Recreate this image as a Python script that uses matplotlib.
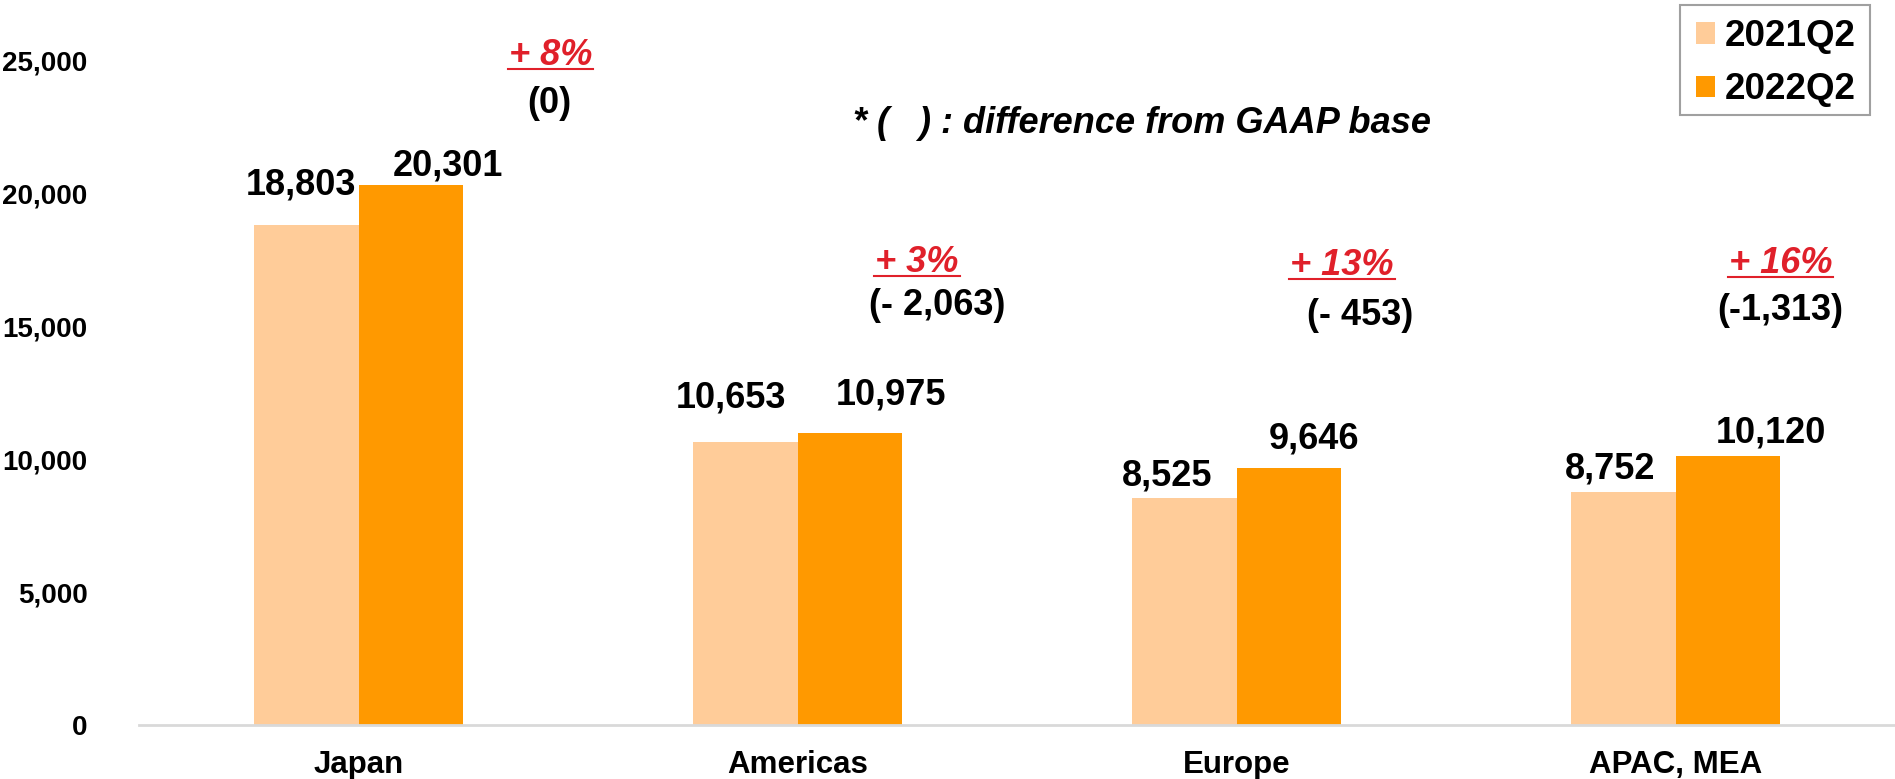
import matplotlib
matplotlib.use("Agg")
import matplotlib.pyplot as plt
from matplotlib.lines import Line2D
from matplotlib.patches import Rectangle
import numpy as np

# ---------------- data ----------------
categories = ["Japan", "Americas", "Europe", "APAC, MEA"]
series_names = ["2021Q2", "2022Q2"]
values_2021 = [18803, 10653, 8525, 8752]
values_2022 = [20301, 10975, 9646, 10120]
growth_labels = ["+ 8%", "+ 3%", "+ 13%", "+ 16%"]
gaap_diff_labels = ["(0)", "(- 2,063)", "(- 453)", "(-1,313)"]
note_text = "* (   ) : difference from GAAP base"
yticks = [0, 5000, 10000, 15000, 20000, 25000]

# ---------------- layout / style ----------------
fam = "Liberation Sans"
plt.rcParams["font.family"] = [fam, "DejaVu Sans"]

c_light = "#FFCC99"
c_dark = "#FF9900"
c_red = "#E0202A"

W, H = 1895, 779
fig = plt.figure(figsize=(W / 100, H / 100), dpi=100)
ax = fig.add_axes([139 / W, 54 / H, 1 - 139 / W, 1 - 54 / H])

x = np.arange(len(categories))
bw = 0.239
b1 = ax.bar(x - bw / 2, values_2021, width=bw, color=c_light, label=series_names[0])
b2 = ax.bar(x + bw / 2, values_2022, width=bw, color=c_dark, label=series_names[1])

ax.set_xlim(-0.5, 3.5)
ax.set_ylim(0, 27256)
ax.set_yticks(yticks)
ax.set_yticklabels([f"{v:,}" for v in yticks], fontsize=20, fontweight="bold")
ax.set_xticks(x)
ax.set_xticklabels(categories, fontsize=22.5, fontweight="bold")
ax.tick_params(axis="y", length=0, pad=37)
ax.tick_params(axis="x", length=0, pad=18)
for s in ["top", "right", "left"]:
    ax.spines[s].set_visible(False)
ax.spines["bottom"].set_color("#D9D9D9")
ax.spines["bottom"].set_linewidth(2)

# value labels: pixel offsets of text baseline-centre from bar top centre
off_2021 = [(-5, 30), (-14, 34), (-17, 13), (-13, 14)]
off_2022 = [(37, 10), (41, 29), (25, 20), (43, 13)]
for i in range(len(categories)):
    ax.annotate(f"{values_2021[i]:,}", (x[i] - bw / 2, values_2021[i]),
                xytext=off_2021[i], textcoords="offset pixels",
                ha="center", va="baseline", fontsize=26, fontweight="bold")
    ax.annotate(f"{values_2022[i]:,}", (x[i] + bw / 2, values_2022[i]),
                xytext=off_2022[i], textcoords="offset pixels",
                ha="center", va="baseline", fontsize=26, fontweight="bold")

# growth and GAAP-difference annotations (data coords, baseline)
growth_pos = [(0.437, 24812), (1.272, 17030), (2.240, 16917), (3.239, 16992)]
gaap_pos = [(0.435, 23026), (1.319, 15395), (2.281, 15056), (3.239, 15207)]
growth_texts = []
for i in range(len(categories)):
    t = ax.text(*growth_pos[i], growth_labels[i], color=c_red, fontsize=26,
                fontweight="bold", fontstyle="italic", ha="center", va="baseline")
    growth_texts.append(t)
    ax.text(*gaap_pos[i], gaap_diff_labels[i], color="black", fontsize=26,
            fontweight="bold", ha="center", va="baseline")

fig.text(1142 / W, 1 - 133 / H, note_text, fontsize=26, fontweight="bold",
         fontstyle="italic", ha="center", va="baseline")

# legend (frameless) + drawn frame
lfs = 26.5
em = lfs * 100 / 72
leg = fig.legend(handles=[b1, b2], loc="upper left",
                 bbox_to_anchor=(1696 / W, 1 - 19 / H),
                 prop={"family": fam, "size": lfs, "weight": "bold"},
                 frameon=False, handlelength=19 / em, handleheight=19 / em,
                 handletextpad=10 / em, borderpad=0, labelspacing=0.5, borderaxespad=0)
fig.add_artist(Rectangle((1680 / W, 1 - 115 / H), 190 / W, 110 / H, transform=fig.transFigure,
                         fill=False, edgecolor="#A0A0A0", linewidth=1.5))

# underline growth labels
fig.canvas.draw()
r = fig.canvas.get_renderer()
inv = fig.transFigure.inverted()
for t, pos in zip(growth_texts, growth_pos):
    bb = t.get_window_extent(renderer=r)
    base_y = ax.transData.transform(pos)[1]
    (x0, y0) = inv.transform((bb.x0 - 1, base_y - 4))
    (x1, _) = inv.transform((bb.x1 + 1, base_y - 4))
    fig.add_artist(Line2D([x0, x1], [y0, y0], transform=fig.transFigure,
                          color=c_red, linewidth=1.5))

fig.savefig("out.png", dpi=100)
